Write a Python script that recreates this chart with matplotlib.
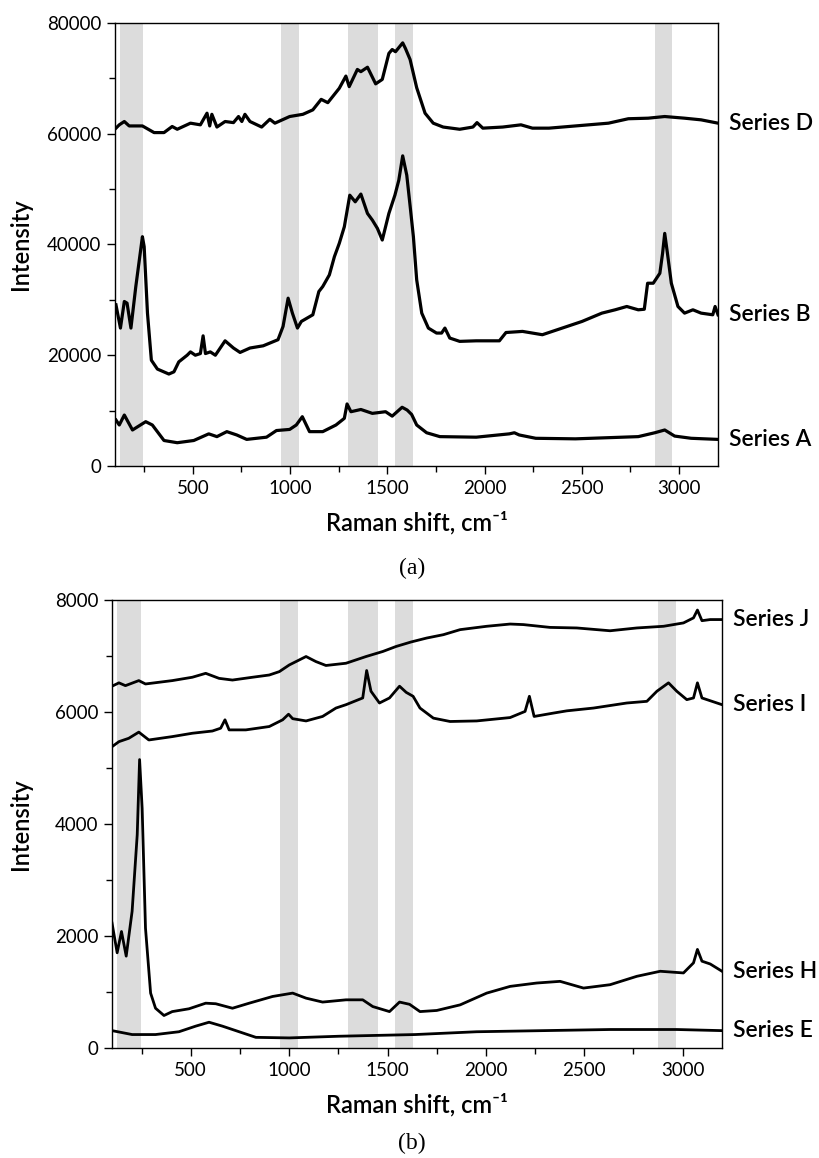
import matplotlib
matplotlib.use('Agg')
import matplotlib.pyplot as plt
from matplotlib.ticker import MultipleLocator, AutoMinorLocator

plt.rcParams['font.family'] = ['Lato', 'DejaVu Sans']
plt.rcParams['axes.linewidth'] = 1.0

# ---- data (Raman shift in cm-1, intensity) ----
bands = [(125, 245), (955, 1045), (1300, 1450), (1540, 1630), (2875, 2965)]

# panel (a)
a_x_D = [105, 122, 148, 173, 241, 301, 352, 394, 420, 488, 539, 573, 587, 598, 624, 666,
         709, 735, 752, 768, 794, 854, 896, 922, 998, 1066, 1117, 1160, 1194, 1253, 1287,
         1304, 1346, 1364, 1398, 1440, 1474, 1508, 1525, 1542, 1579, 1593, 1617, 1651, 1694,
         1736, 1787, 1872, 1940, 1961, 1991, 2093, 2187, 2246, 2331, 2467, 2637, 2739,
         2841, 2926, 3028, 3113, 3200]
a_y_D = [61000, 61600, 62200, 61400, 61400, 60200, 60200, 61300, 60800, 61900, 61600, 63700,
         61400, 63500, 61200, 62200, 62000, 63100, 62200, 63500, 62200, 61200, 62600, 61900,
         63100, 63500, 64300, 66200, 65600, 68200, 70400, 68500, 71600, 71200, 72000, 69000,
         69800, 74500, 75200, 74800, 76400, 75400, 73400, 68300, 63700, 61900, 61200, 60800,
         61200, 62000, 61000, 61200, 61600, 61000, 61000, 61400, 61900, 62700, 62800, 63100,
         62800, 62500, 61900]

a_x_B = [105, 128, 148, 162, 182, 207, 241, 250, 267, 287, 318, 377, 403, 428, 471, 488,
         513, 539, 553, 565, 590, 616, 666, 709, 743, 794, 862, 938, 964, 990, 1012, 1038,
         1058, 1117, 1148, 1168, 1202, 1228, 1253, 1279, 1307, 1335, 1364, 1398, 1423, 1449,
         1474, 1508, 1539, 1559, 1579, 1600, 1617, 1634, 1651, 1677, 1711, 1753, 1779, 1796,
         1821, 1872, 1957, 2076, 2110, 2195, 2297, 2399, 2501, 2603, 2671, 2731, 2790, 2821,
         2838, 2867, 2901, 2915, 2926, 2940, 2960, 2994, 3028, 3071, 3113, 3173, 3185, 3200]
a_y_B = [29100, 24900, 29700, 29400, 24900, 32400, 41400, 39600, 27600, 19100, 17500, 16600,
         17000, 18800, 20000, 20600, 20000, 20300, 23500, 20300, 20600, 20000, 22600, 21300,
         20500, 21300, 21700, 22800, 25200, 30300, 27600, 24900, 26100, 27300, 31500, 32400,
         34500, 37800, 40200, 43200, 48900, 47700, 49100, 45600, 44400, 42900, 40800, 45600,
         48900, 51600, 56000, 52500, 47000, 41400, 33600, 27600, 24900, 24000, 24000, 24900,
         23100, 22500, 22600, 22600, 24100, 24300, 23700, 24900, 26100, 27600, 28200, 28800,
         28200, 28300, 33000, 33000, 34800, 38400, 42000, 38400, 33000, 28800, 27600, 28200,
         27600, 27300, 28800, 27300]

a_x_A = [105, 122, 148, 190, 258, 292, 352, 420, 505, 582, 624, 675, 726, 777, 879, 930,
         998, 1032, 1063, 1100, 1168, 1236, 1279, 1293, 1313, 1364, 1423, 1491, 1525, 1576,
         1602, 1625, 1651, 1702, 1770, 1957, 2127, 2153, 2178, 2263, 2467, 2790, 2875, 2926,
         2977, 3062, 3200]
a_y_A = [8300, 7400, 9200, 6500, 8000, 7400, 4600, 4200, 4600, 5800, 5300, 6200, 5600, 4800,
         5200, 6400, 6600, 7400, 8900, 6200, 6200, 7400, 8600, 11200, 9800, 10200, 9500, 9800,
         9000, 10600, 10100, 9300, 7400, 6000, 5300, 5200, 5800, 6000, 5600, 5000, 4900, 5300,
         6000, 6500, 5400, 5000, 4800]

# panel (b)
b_x_J = [100, 135, 168, 236, 270, 406, 508, 576, 644, 712, 814, 899, 950, 1001, 1086, 1136,
         1187, 1289, 1391, 1476, 1544, 1620, 1699, 1784, 1869, 2004, 2123, 2191, 2326, 2462,
         2631, 2767, 2903, 3004, 3055, 3075, 3098, 3140, 3200]
b_y_J = [6460, 6520, 6470, 6560, 6500, 6560, 6620, 6690, 6600, 6570, 6620, 6660, 6720, 6840,
         6990, 6900, 6830, 6870, 6990, 7080, 7170, 7250, 7320, 7380, 7470, 7530, 7570, 7560,
         7510, 7500, 7450, 7500, 7530, 7590, 7680, 7820, 7630, 7650, 7650]

b_x_I = [100, 135, 185, 236, 287, 406, 508, 610, 652, 674, 695, 780, 899, 967, 997, 1018,
         1086, 1170, 1238, 1289, 1374, 1394, 1416, 1459, 1510, 1561, 1595, 1630, 1665, 1733,
         1818, 1953, 2123, 2199, 2221, 2245, 2343, 2411, 2547, 2716, 2818, 2869, 2928, 2970,
         3021, 3055, 3075, 3098, 3200]
b_y_I = [5380, 5470, 5530, 5640, 5500, 5560, 5620, 5660, 5710, 5860, 5680, 5680, 5740, 5860,
         5960, 5880, 5840, 5920, 6070, 6130, 6250, 6740, 6370, 6160, 6250, 6460, 6350, 6280,
         6070, 5890, 5830, 5840, 5900, 6010, 6280, 5920, 5980, 6020, 6070, 6160, 6190, 6370,
         6520, 6370, 6220, 6250, 6520, 6250, 6130]

b_x_H = [100, 126, 148, 172, 202, 228, 240, 253, 270, 296, 321, 364, 406, 491, 576, 627,
         712, 797, 916, 1018, 1086, 1170, 1289, 1374, 1425, 1510, 1561, 1612, 1665, 1750,
         1869, 2004, 2123, 2258, 2377, 2496, 2631, 2767, 2886, 3004, 3055, 3075, 3098, 3140,
         3200]
b_y_H = [2230, 1700, 2080, 1640, 2440, 3810, 5150, 4280, 2140, 980, 710, 580, 650, 700, 800,
         790, 710, 800, 920, 980, 890, 820, 860, 860, 740, 650, 820, 780, 650, 670, 770, 980,
         1100, 1160, 1190, 1070, 1130, 1280, 1370, 1340, 1520, 1760, 1550, 1500, 1370]

b_x_E = [100, 202, 321, 440, 525, 593, 661, 746, 831, 1001, 1255, 1510, 1640, 1953, 2292,
         2631, 2970, 3200]
b_y_E = [310, 240, 240, 290, 390, 460, 390, 290, 190, 180, 210, 230, 240, 290, 310, 330, 330,
         310]

panel_a = [('Series D', a_x_D, a_y_D), ('Series B', a_x_B, a_y_B), ('Series A', a_x_A, a_y_A)]
panel_b = [('Series J', b_x_J, b_y_J), ('Series I', b_x_I, b_y_I),
           ('Series H', b_x_H, b_y_H), ('Series E', b_x_E, b_y_E)]

FS_TICK = 13.5
FS_LABEL = 17
FS_SERIES = 16.5

fig = plt.figure(figsize=(8.19, 11.58), dpi=100)
ax_a = fig.add_axes([0.1404, 0.5976, 0.7363, 0.3826])
ax_b = fig.add_axes([0.1368, 0.0950, 0.7448, 0.3869])


def draw_panel(ax, series, ymax, ystep, lw):
    for lo, hi in bands:
        ax.axvspan(lo, hi, color='#dcdcdc', lw=0, zorder=0)
    for name, xs, ys in series:
        ax.plot(xs, ys, color='black', lw=lw, solid_joinstyle='round', zorder=3)
        ax.annotate(name, xy=(1, ys[-1]), xycoords=('axes fraction', 'data'),
                    xytext=(8, 0), textcoords='offset points', ha='left', va='center',
                    fontsize=FS_SERIES, fontweight='semibold', annotation_clip=False)
    ax.set_xlim(100, 3200)
    ax.set_ylim(0, ymax)
    ax.xaxis.set_major_locator(MultipleLocator(500))
    ax.xaxis.set_minor_locator(AutoMinorLocator(2))
    ax.yaxis.set_major_locator(MultipleLocator(ystep))
    ax.yaxis.set_minor_locator(AutoMinorLocator(2))
    ax.tick_params(which='major', direction='out', length=6, width=1.0,
                   labelsize=FS_TICK, pad=4)
    ax.tick_params(which='minor', direction='out', length=4, width=1.0)
    ax.set_xlabel('Raman shift, cm\u207b\u00b9', fontsize=FS_LABEL, fontweight='semibold',
                  labelpad=10)
    ax.set_ylabel('Intensity', fontsize=FS_LABEL, fontweight='semibold')


draw_panel(ax_a, panel_a, 80000, 20000, 2.3)
draw_panel(ax_b, panel_b, 8000, 2000, 2.0)
ax_a.yaxis.set_label_coords(-0.138, 0.5)
ax_b.yaxis.set_label_coords(-0.132, 0.5)

fig.text(0.503, 0.509, '(a)', ha='center', va='center', fontsize=17,
         family='Liberation Serif')
fig.text(0.503, 0.0125, '(b)', ha='center', va='center', fontsize=17,
         family='Liberation Serif')

fig.savefig('out.png', dpi=100)
